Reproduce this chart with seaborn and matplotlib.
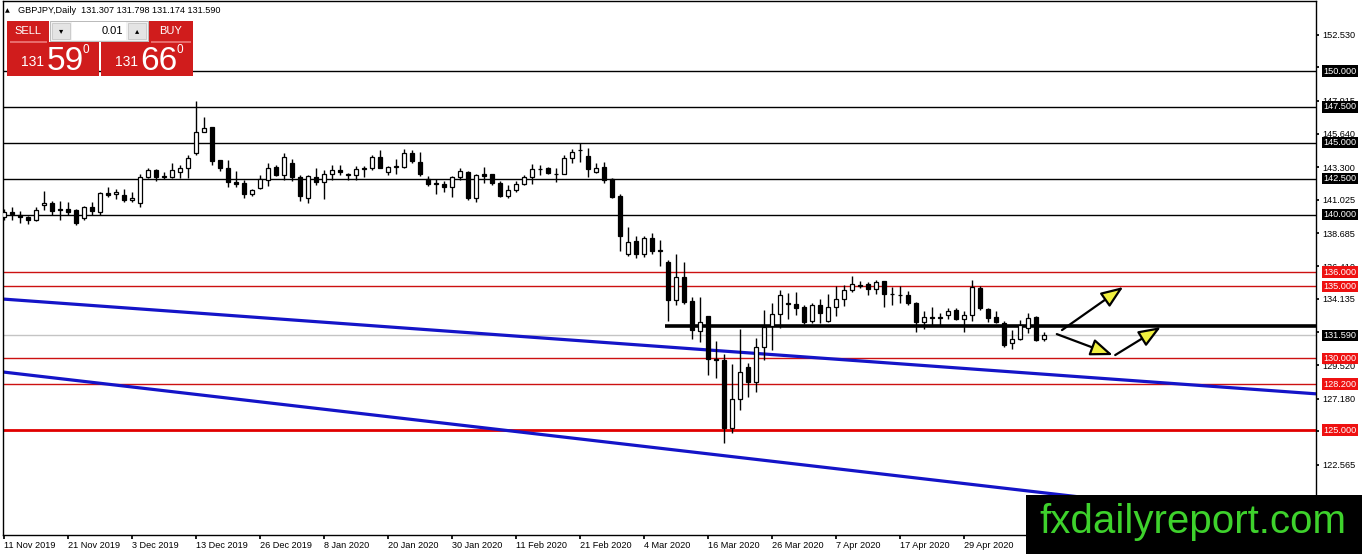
import matplotlib
matplotlib.use("Agg")
import matplotlib.pyplot as plt
from matplotlib.patches import Rectangle
from matplotlib import font_manager
import numpy as np
import pandas as pd
import seaborn as sns

# ---------------- data ----------------
opens = [139.80, 140.15, 139.97, 139.85, 139.63, 140.65, 140.83, 140.40, 140.37, 140.30,
         139.75, 140.50, 140.20, 141.53, 141.45, 141.40, 141.00, 140.79, 142.64, 143.08,
         142.72, 142.64, 142.99, 143.26, 144.30, 145.76, 146.09, 143.77, 143.26, 142.29,
         142.22, 141.46, 141.87, 142.43, 143.32, 142.78, 143.60, 142.62, 141.14, 142.62,
         142.27, 142.83, 143.08, 142.75, 142.78, 143.20, 143.25, 144.02, 143.00, 143.32,
         143.30, 144.30, 143.67, 142.48, 142.17, 142.15, 141.92, 142.60, 142.97, 141.19,
         142.80, 142.80, 142.20, 141.33, 141.73, 142.13, 142.64, 143.15, 143.22, 142.82,
         142.80, 143.91, 144.48, 144.05, 142.98, 143.31, 142.50, 141.30, 137.29, 138.17,
         137.29, 138.40, 137.50, 136.71, 134.05, 135.69, 133.96, 131.93, 132.95, 129.98,
         129.88, 125.16, 127.14, 129.37, 128.37, 130.81, 132.21, 133.09, 133.80, 133.79,
         133.60, 132.56, 133.72, 132.56, 133.56, 134.12, 134.77, 135.10, 135.19, 134.84,
         135.35, 134.46, 134.42, 134.42, 133.84, 132.51, 132.84, 132.79, 132.98, 133.37,
         132.72, 132.98, 134.88, 133.44, 132.84, 132.44, 131.05, 131.35, 132.09, 132.84,
         131.307]
highs = [140.40, 140.50, 140.25, 139.90, 140.50, 141.65, 140.95, 140.95, 140.90, 140.37,
         140.60, 140.90, 141.60, 141.90, 141.80, 141.75, 141.60, 142.80, 143.26, 143.15,
         143.00, 143.60, 143.45, 144.12, 147.94, 146.83, 146.09, 143.80, 143.80, 143.03,
         142.38, 141.80, 142.73, 143.60, 143.43, 144.30, 143.90, 142.73, 142.78, 143.25,
         143.13, 143.48, 143.43, 142.90, 143.36, 143.36, 144.13, 144.53, 143.36, 143.90,
         144.60, 144.49, 144.37, 142.66, 142.48, 142.31, 142.66, 143.25, 143.06, 142.83,
         143.32, 142.83, 142.31, 142.08, 142.31, 142.78, 143.50, 143.45, 143.33, 143.26,
         144.14, 144.60, 145.00, 144.65, 143.60, 143.66, 142.57, 141.41, 139.17, 138.52,
         138.52, 138.70, 138.22, 136.83, 137.25, 136.67, 134.28, 134.26, 132.95, 131.21,
         130.28, 129.60, 132.05, 129.65, 131.40, 133.37, 133.88, 134.77, 134.53, 134.60,
         133.72, 133.88, 134.12, 134.49, 135.00, 135.12, 135.74, 135.35, 135.28, 135.47,
         135.40, 134.93, 135.00, 134.70, 133.91, 133.26, 133.60, 133.14, 133.53, 133.53,
         133.26, 135.47, 135.00, 133.49, 133.26, 132.60, 131.98, 132.67, 133.14, 132.91,
         131.798]
lows = [139.60, 139.60, 139.45, 139.33, 139.55, 140.32, 140.00, 139.60, 140.00, 139.30,
        139.60, 140.00, 140.00, 141.20, 141.10, 140.85, 140.85, 140.53, 142.57, 142.34,
        142.45, 142.57, 142.55, 142.57, 144.18, 145.76, 143.45, 143.03, 141.90, 141.95,
        141.13, 141.30, 141.75, 141.96, 142.66, 142.43, 142.31, 140.96, 140.80, 142.08,
        141.10, 142.43, 142.78, 142.38, 142.43, 142.60, 143.13, 143.25, 142.73, 142.83,
        143.25, 143.60, 142.66, 141.96, 141.43, 141.60, 141.21, 142.43, 141.03, 140.90,
        142.20, 142.08, 141.26, 141.19, 141.60, 142.08, 142.15, 142.75, 142.85, 142.27,
        142.80, 143.61, 143.68, 142.62, 142.90, 142.18, 141.18, 137.48, 137.13, 137.01,
        137.08, 137.25, 136.43, 132.62, 133.73, 133.77, 131.34, 131.16, 128.84, 128.60,
        124.07, 124.77, 126.40, 127.33, 127.67, 129.88, 130.58, 132.09, 132.72, 133.02,
        132.37, 132.44, 132.44, 132.49, 132.91, 133.65, 134.60, 134.88, 134.42, 134.47,
        133.60, 133.72, 133.84, 133.72, 131.86, 132.05, 132.28, 132.28, 132.74, 132.67,
        131.86, 132.60, 133.37, 132.51, 132.44, 130.81, 130.63, 131.28, 131.74, 131.21,
        131.174]
closes = [140.19, 140.05, 139.86, 139.63, 140.32, 140.78, 140.25, 140.30, 140.18, 139.42,
          140.50, 140.26, 141.53, 141.37, 141.60, 141.00, 141.17, 142.64, 143.10, 142.64,
          142.65, 143.13, 143.26, 143.96, 145.76, 146.04, 143.73, 143.26, 142.27, 142.15,
          141.41, 141.69, 142.45, 143.25, 142.73, 144.02, 142.60, 141.33, 142.71, 142.24,
          142.83, 143.13, 143.00, 142.80, 143.20, 143.28, 144.02, 143.25, 143.32, 143.36,
          144.30, 143.71, 142.83, 142.13, 142.13, 141.90, 142.60, 143.06, 141.19, 142.73,
          142.66, 142.20, 141.33, 141.73, 142.13, 142.60, 143.19, 143.19, 142.92, 142.80,
          143.91, 144.37, 144.50, 143.19, 143.26, 142.40, 141.23, 138.52, 138.12, 137.29,
          138.40, 137.48, 137.52, 134.05, 135.67, 133.94, 131.97, 132.49, 129.93, 129.90,
          125.16, 127.14, 129.02, 128.37, 130.77, 132.20, 133.09, 134.42, 133.84, 133.49,
          132.49, 133.72, 133.14, 133.56, 134.12, 134.77, 135.19, 135.05, 134.81, 135.30,
          134.47, 134.44, 134.40, 133.84, 132.51, 132.84, 132.79, 132.84, 133.26, 132.72,
          132.98, 134.95, 133.53, 132.79, 132.51, 130.93, 131.35, 132.28, 132.79, 131.28,
          131.590]

date_labels = ["11 Nov 2019", "21 Nov 2019", "3 Dec 2019", "13 Dec 2019", "26 Dec 2019",
               "8 Jan 2020", "20 Jan 2020", "30 Jan 2020", "11 Feb 2020", "21 Feb 2020",
               "4 Mar 2020", "16 Mar 2020", "26 Mar 2020", "7 Apr 2020", "17 Apr 2020",
               "29 Apr 2020"]
label_step = 8

price_ticks = [152.530, 150.255, 147.915, 145.640, 143.300, 141.025, 138.685, 136.410,
               134.135, 131.795, 129.520, 127.180, 124.905, 122.565, 120.290]

black_levels = [150.0, 147.5, 145.0, 142.5, 140.0]
red_levels = [136.0, 135.0, 130.0, 128.2]
support_level = 125.0
pivot_level = 132.27
pivot_start_bar = 82.6
bid_price = 131.590

trend1_x = [-0.125, 164.0]
trend1_y = [134.12, 127.52]
trend2_x = [-0.125, 164.0]
trend2_y = [129.04, 118.43]

arrow_starts = [(132.25, 131.96), (131.6, 131.68), (138.9, 130.22)]
arrow_ends = [(139.9, 134.96), (138.6, 130.22), (144.6, 132.17)]

header = "GBPJPY,Daily  131.307 131.798 131.174 131.590"

# ---------------- style ----------------
sns.set_theme(style="white")
plt.rcParams['font.family'] = ['Liberation Sans', 'DejaVu Sans']

W, H = 1362, 554
fig = plt.figure(figsize=(W / 100, H / 100), dpi=100)
fig.patch.set_facecolor('white')
ax = fig.add_axes([3 / W, 19 / H, 1313 / W, 534 / H])
ax.set_facecolor('white')

df = pd.DataFrame({'open': opens, 'high': highs, 'low': lows, 'close': closes})
df['bar'] = np.arange(len(df))
up = df['close'] >= df['open']
body_lo = np.minimum(df['open'], df['close'])
body_h = np.maximum((df['close'] - df['open']).abs(), 0.02)

# horizontal levels
for lv in black_levels:
    ax.axhline(lv, color='black', lw=1.0, zorder=1)
for lv in red_levels:
    ax.axhline(lv, color='#cc1111', lw=1.0, zorder=1)
ax.axhline(support_level, color='#e00000', lw=2.0, zorder=1)
ax.axhline(bid_price, color='#c4c4c4', lw=1.0, zorder=1)
ax.hlines(pivot_level, pivot_start_bar, 164.0, color='black', lw=2.6, zorder=2)

# trend lines
sns.lineplot(x=trend1_x, y=trend1_y, ax=ax, color='#1414c8', lw=2.3, sort=False,
             estimator=None, zorder=2)
sns.lineplot(x=trend2_x, y=trend2_y, ax=ax, color='#1414c8', lw=2.3, sort=False,
             estimator=None, zorder=2)

# candles
ax.vlines(df['bar'], df['low'], df['high'], color='black', lw=1.0, zorder=3)
ax.bar(df['bar'], body_h, bottom=body_lo, width=0.62,
       color=np.where(up, 'white', 'black'), edgecolor='black', linewidth=0.9, zorder=4)

# arrows
for (sx, sy), (ex, ey) in zip(arrow_starts, arrow_ends):
    ax.annotate('', xy=(ex, ey), xytext=(sx, sy),
                arrowprops=dict(arrowstyle='-|>,head_length=0.9,head_width=0.35',
                                facecolor='#f0f040', edgecolor='black', lw=1.6,
                                mutation_scale=15, shrinkA=0, shrinkB=0),
                zorder=6)

ax.set_xlim(-0.125, 164.0)
ax.set_ylim(117.69, 154.875)

# axes / ticks
for s in ax.spines.values():
    s.set_color('black')
    s.set_linewidth(1.0)
ax.set_xticks(np.arange(len(date_labels)) * label_step)
ax.set_xticklabels(date_labels, ha='left')
ax.tick_params(axis='x', direction='out', length=3, pad=1.5, labelsize=6.6,
               colors='black', bottom=True)
ax.yaxis.tick_right()
ax.set_yticks(price_ticks)
ax.set_yticklabels([f"{v:.3f}" for v in price_ticks])
ax.tick_params(axis='y', direction='out', length=2.5, pad=2.2, labelsize=6.6,
               colors='black', right=True)
ax.grid(False)
ax.set_xlabel('')
ax.set_ylabel('')

# price tags on the right
tr = ax.get_yaxis_transform()
tag_x = 1 + 7.5 / 1313
for lv in black_levels + [bid_price]:
    ax.text(tag_x, lv, f"{lv:.3f}", transform=tr, ha='left', va='center', fontsize=6.6,
            color='white', clip_on=False, zorder=10,
            bbox=dict(boxstyle='square,pad=0.12', fc='black', ec='none'))
for lv in red_levels + [support_level]:
    ax.text(tag_x, lv, f"{lv:.3f}", transform=tr, ha='left', va='center', fontsize=6.6,
            color='white', clip_on=False, zorder=10,
            bbox=dict(boxstyle='square,pad=0.12', fc='#ee1111', ec='none'))


# ---------------- overlay widgets (pixel coords, top-left origin) ----------------
def prect(x0, y0, x1, y1, fc, ec='none', lw=0, z=20):
    r = Rectangle((x0 / W, 1 - y1 / H), (x1 - x0) / W, (y1 - y0) / H,
                  transform=fig.transFigure, fc=fc, ec=ec, lw=lw, zorder=z)
    fig.add_artist(r)


def ptext(x, y, s, **kw):
    fig.text(x / W, 1 - y / H, s, zorder=25, **kw)


ptext(5, 10.5, "▲", fontsize=4.5, va='center', ha='left', color='black',
      family=['DejaVu Sans'])
ptext(18, 10.5, header, fontsize=6.6, va='center', ha='left', color='black')

red = '#d01c1c'
# SELL side
prect(7, 21, 49, 42, red)
prect(7, 42, 99, 76, red)
prect(10, 41.5, 47, 42.5, '#e86a6a', z=21)
# BUY side
prect(149, 21, 193, 42, red)
prect(101, 42, 193, 76, red)
prect(151, 41.5, 191, 42.5, '#e86a6a', z=21)
# spinner
prect(50, 21, 148, 41, '#f2f2f2', ec='#b0b0b0', lw=0.6)
prect(52, 23, 70, 39, '#e4e4e4', ec='#c0c0c0', lw=0.5, z=21)
prect(128, 23, 146, 39, '#e4e4e4', ec='#c0c0c0', lw=0.5, z=21)
prect(72, 22, 126, 40, 'white', z=21)

ptext(28, 31, "SELL", fontsize=8, color='white', ha='center', va='center')
ptext(171, 31, "BUY", fontsize=8, color='white', ha='center', va='center')
ptext(123, 31, "0.01", fontsize=8, color='black', ha='right', va='center')
ptext(61, 31, "▾", fontsize=6, color='black', ha='center', va='center',
      family=['DejaVu Sans'])
ptext(137, 31, "▴", fontsize=6, color='black', ha='center', va='center',
      family=['DejaVu Sans'])

ptext(33, 66, "131", fontsize=10, color='white', ha='center', va='baseline')
ptext(65.5, 70, "59", fontsize=24, color='white', ha='center', va='baseline')
ptext(86, 50, "0", fontsize=8.5, color='white', ha='center', va='center')
ptext(127, 66, "131", fontsize=10, color='white', ha='center', va='baseline')
ptext(158.5, 70, "66", fontsize=24, color='white', ha='center', va='baseline')
ptext(180, 50, "0", fontsize=8.5, color='white', ha='center', va='center')

# watermark
prect(1026, 495, 1362, 554, 'black', z=30)
names = {f.name for f in font_manager.fontManager.ttflist}
wm_family = ['Liberation Sans Narrow'] if 'Liberation Sans Narrow' in names else ['Liberation Sans']
wm_size = 35 if wm_family[0] == 'Liberation Sans Narrow' else 29
fig.text(1193 / W, 1 - 522 / H, "fxdailyreport.com", fontsize=wm_size, color='#3ed22c',
         ha='center', va='center', family=wm_family, zorder=31)

fig.savefig("out.png", dpi=100, facecolor='white')
